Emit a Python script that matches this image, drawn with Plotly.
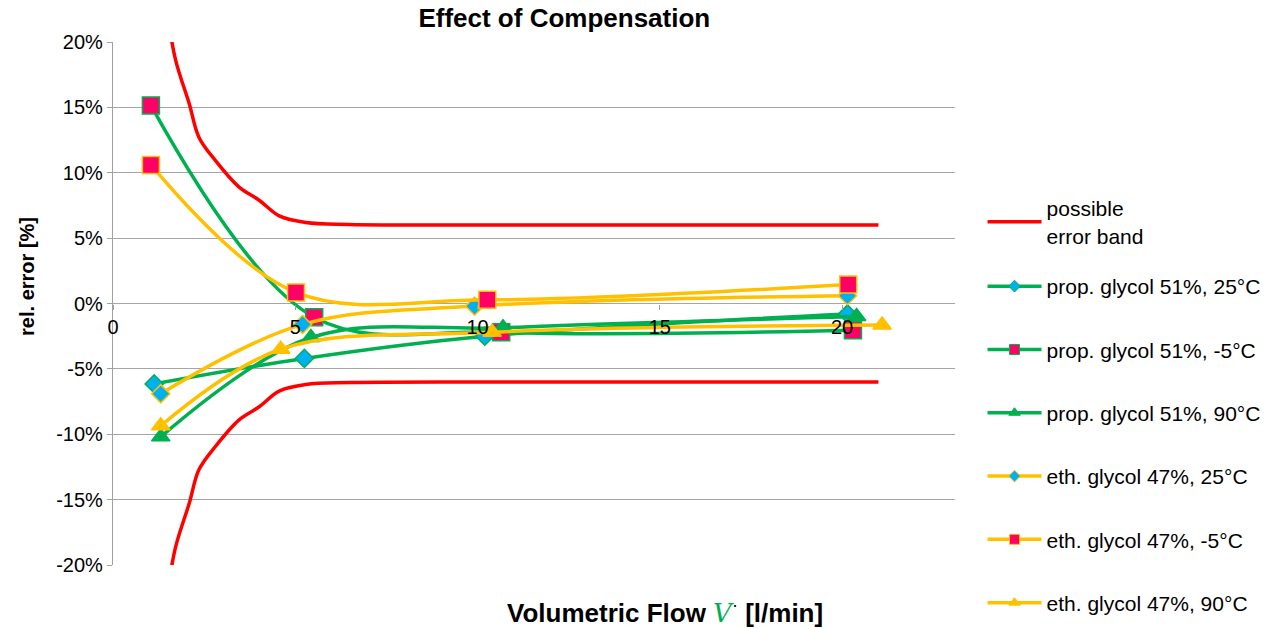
import plotly.graph_objects as go

# ---- data ----
band_flow = [1.5, 1.72, 2.09, 2.36, 2.82, 3.46, 4.01, 4.56, 5.29, 6.48, 10, 15, 21]
band_upper = [22.0, 18.6, 15.3, 12.7, 10.9, 8.9, 7.9, 6.7, 6.2, 6.05, 6.0, 6.0, 6.0]
band_lower = [-22.0, -18.6, -15.3, -12.7, -10.9, -8.9, -7.9, -6.7, -6.2, -6.05, -6.0, -6.0, -6.0]

pg25_x = [1.13, 5.25, 10.2, 20.15]
pg25_y = [-6.15, -4.2, -2.5, -0.8]
pgm5_x = [1.04, 5.52, 10.65, 20.3]
pgm5_y = [15.15, -1.05, -2.2, -2.05]
pg90_x = [1.31, 5.43, 10.7, 20.4]
pg90_y = [-10.2, -2.6, -1.85, -1.0]
eg25_x = [1.31, 5.2, 9.92, 20.15]
eg25_y = [-6.9, -1.6, -0.2, 0.6]
egm5_x = [1.04, 5.02, 10.27, 20.17]
egm5_y = [10.6, 0.85, 0.28, 1.45]
eg90_x = [1.31, 4.6, 10.4, 21.1]
eg90_y = [-9.35, -3.5, -2.2, -1.65]

y_ticks = [-20, -15, -10, -5, 0, 5, 10, 15, 20]
y_tick_labels = [f"{v}%" for v in y_ticks]
x_ticks = [0, 5, 10, 15, 20]

GREEN = "#00B050"
YELLOW = "#FFC000"
RED = "#FF0000"
BLUE = "#00B0F0"
PINK = "#FF0066"

fig = go.Figure()

fig.add_trace(go.Scatter(x=band_flow, y=band_upper, mode="lines", name="possible<br>error band",
                         line=dict(color=RED, width=3.5, shape="spline"), legendgroup="band",
                         legend="legend"))
fig.add_trace(go.Scatter(x=band_flow, y=band_lower, mode="lines", showlegend=False,
                         line=dict(color=RED, width=3.5, shape="spline"), legendgroup="band"))

series = [
    ("prop. glycol 51%, 25°C", pg25_x, pg25_y, GREEN, "diamond", BLUE, 14, 9),
    ("prop. glycol 51%, -5°C", pgm5_x, pgm5_y, GREEN, "square", PINK, 17, 10),
    ("prop. glycol 51%, 90°C", pg90_x, pg90_y, GREEN, "triangle-up", GREEN, 16, 10),
    ("eth. glycol 47%, 25°C", eg25_x, eg25_y, YELLOW, "diamond", BLUE, 14, 9),
    ("eth. glycol 47%, -5°C", egm5_x, egm5_y, YELLOW, "square", PINK, 17, 10),
    ("eth. glycol 47%, 90°C", eg90_x, eg90_y, YELLOW, "triangle-up", YELLOW, 16, 10),
]
for i, (name, xs, ys, lc, sym, fc, sz, lsz) in enumerate(series):
    fig.add_trace(go.Scatter(
        x=xs, y=ys, mode="lines+markers", name=name, legendgroup=f"g{i}", showlegend=False,
        line=dict(color=lc, width=3.5, shape="spline"),
        marker=dict(symbol=sym, size=sz, color=fc, line=dict(color=lc, width=1.5)),
    ))
    # legend entry with the smaller legend symbol
    fig.add_trace(go.Scatter(
        x=[None], y=[None], mode="lines+markers", name=name, legendgroup=f"g{i}",
        legend="legend2",
        line=dict(color=lc, width=3.5),
        marker=dict(symbol=sym, size=lsz, color=fc, line=dict(color=lc, width=1)),
    ))

W, H = 1278, 629
fig.update_layout(
    width=W, height=H,
    paper_bgcolor="white", plot_bgcolor="white",
    margin=dict(l=113, r=W - 955, t=42, b=H - 565, autoexpand=False),
    font=dict(family="Liberation Sans, Arial, sans-serif", color="black"),
    title=dict(text="<b>Effect of Compensation</b>", xref="paper", x=0.536, xanchor="center",
               y=1 - 18 / H, yanchor="middle", font=dict(size=26, color="black")),
    xaxis=dict(range=[0, 23.1], tickvals=x_ticks, ticks="outside", ticklen=5, tickcolor="#A0A0A0",
               showgrid=False, zeroline=False, showline=False, anchor="free", position=0.5,
               tickfont=dict(size=20), automargin=False),
    yaxis=dict(range=[-20, 20], tickvals=y_ticks, ticktext=y_tick_labels, ticks="outside", ticklen=5,
               tickcolor="#A0A0A0", showgrid=True, gridcolor="#A6A6A6", gridwidth=1.3,
               zeroline=False, showline=True, linecolor="#A0A0A0", linewidth=1.3,
               tickfont=dict(size=20), automargin=False),
    legend=dict(x=1.0327, xanchor="left", y=0.7208, yanchor="top", font=dict(size=21),
                bgcolor="rgba(0,0,0,0)", itemwidth=54),
    legend2=dict(x=1.0327, xanchor="left", y=0.5717, yanchor="top", font=dict(size=21),
                 tracegroupgap=33, bgcolor="rgba(0,0,0,0)", itemwidth=54),
    showlegend=True,
)

fig.add_annotation(text="<b>rel. error [%]</b>", xref="paper", yref="paper", x=-0.102, y=0.551,
                   textangle=-90, showarrow=False, font=dict(size=20), xanchor="center", yanchor="middle")
fig.add_annotation(text="<b>Volumetric Flow </b><span style='color:#00B050;font-family:DejaVu Serif'><i>V</i></span><sup>·</sup><b> [l/min]</b>",
                   xref="paper", yref="paper", x=0.656, y=-0.088, showarrow=False, font=dict(size=26),
                   xanchor="center", yanchor="middle")

fig.write_html("out.html", config={"displayModeBar": False},
               post_script="document.body.style.margin='0px';")
